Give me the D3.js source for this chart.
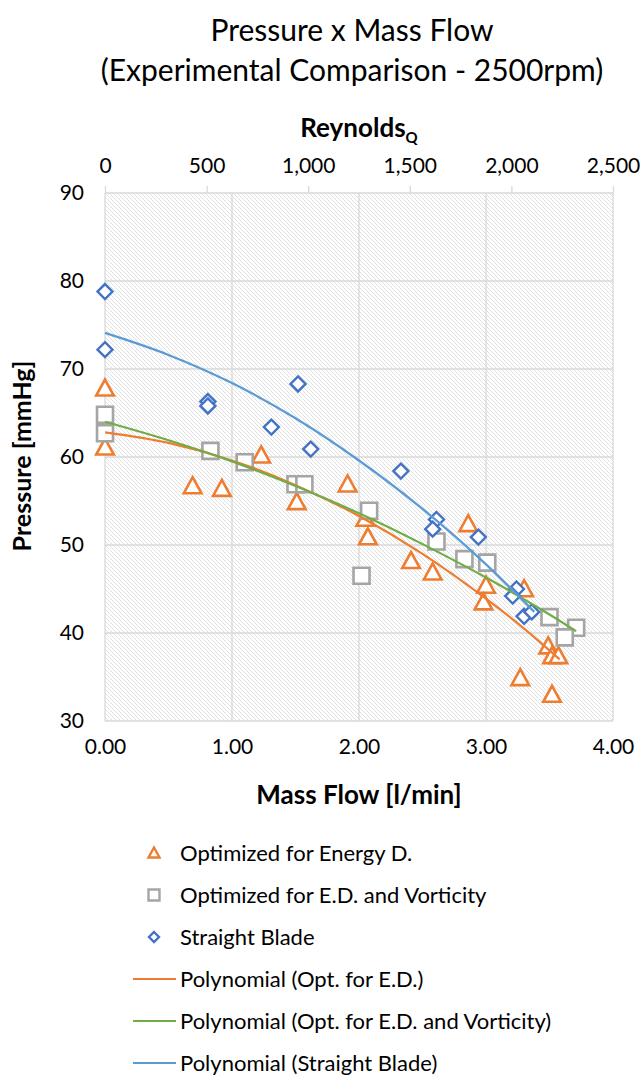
<!DOCTYPE html>
<html>
<head>
<meta charset="utf-8">
<script src="https://cdn.jsdelivr.net/npm/d3@7"></script>
<style>
  body { margin: 0; background: #fff; }
  svg text { font-family: Lato, "Open Sans", sans-serif; fill: #000; }
</style>
</head>
<body>
<div id="chart"></div>
<script>
// Scatter data (mass flow l/min, pressure mmHg)
let energyX = [0.00, 0.00, 0.69, 0.92, 1.23, 1.51, 1.91, 2.05, 2.07, 2.41, 2.58, 2.86, 3.00, 2.98, 3.30, 3.49, 3.52, 3.57, 3.27, 3.52];
let energyY = [67.8, 61.1, 56.7, 56.4, 60.2, 54.9, 56.9, 53.0, 50.9, 48.2, 46.9, 52.4, 45.4, 43.5, 45.0, 38.5, 37.4, 37.4, 34.9, 33.0];

let vortX = [0.00, 0.00, 0.83, 1.10, 1.50, 1.57, 2.08, 2.02, 2.61, 2.83, 3.01, 3.50, 3.71, 3.62];
let vortY = [64.8, 62.7, 60.7, 59.4, 56.9, 56.9, 53.9, 46.5, 50.4, 48.4, 48.0, 41.8, 40.6, 39.5];

let straightX = [0.00, 0.00, 0.81, 0.81, 1.31, 1.52, 1.62, 2.33, 2.61, 2.58, 2.94, 3.24, 3.21, 3.30, 3.36];
let straightY = [78.8, 72.2, 66.3, 65.8, 63.4, 68.3, 60.9, 58.4, 52.9, 51.8, 50.9, 45.0, 44.2, 41.9, 42.4];

// Trendlines
let fitEnergyX = [0, 0.5, 1.0, 1.5, 2.0, 2.5, 3.0, 3.3, 3.58];
let fitEnergyY = [62.8, 61.6, 59.6, 56.8, 53.3, 49.0, 43.9, 40.5, 37.0];
let fitVortX = [0, 0.5, 1.0, 1.5, 2.0, 2.5, 3.0, 3.5, 3.71];
let fitVortY = [64.0, 61.9, 59.5, 56.7, 53.6, 50.1, 46.3, 42.1, 40.2];
let fitStraightX = [0, 0.5, 1.0, 1.5, 2.0, 2.5, 3.0, 3.38];
let fitStraightY = [74.1, 71.6, 68.4, 64.4, 59.6, 54.1, 47.8, 42.4];

// Axis ticks
let flowTicks = [0, 1, 2, 3, 4];
let reynoldsTicks = [0, 500, 1000, 1500, 2000, 2500];
let pressureTicks = [30, 40, 50, 60, 70, 80, 90];

let legendLabels = ["Optimized for Energy D.", "Optimized for E.D. and Vorticity", "Straight Blade",
  "Polynomial (Opt. for E.D.)", "Polynomial (Opt. for E.D. and Vorticity)", "Polynomial (Straight Blade)"];

let orange = "#ED7D31", gray = "#A5A5A5", blue = "#4472C4";
let lineOrange = "#ED7D31", lineGreen = "#70AD47", lineBlue = "#5B9BD5";
let gridColor = "#d9d9d9";

let svgWidth = 644, svgHeight = 1077;
let plot = {left: 105, right: 613, top: 193, bottom: 721};

let svg = d3.select("#chart").append("svg")
  .attr("width", svgWidth)
  .attr("height", svgHeight);

// hatch fill for the plot area
let defs = svg.append("defs");
defs.append("pattern")
  .attr("id", "hatch")
  .attr("patternUnits", "userSpaceOnUse")
  .attr("width", 4).attr("height", 4)
  .append("path")
  .attr("d", "M-1,-1 l2,2 M0,0 l4,4 M3,3 l2,2")
  .attr("stroke", "#dcdcdc")
  .attr("stroke-width", 0.8);

let x = d3.scaleLinear().domain([0, 4]).range([plot.left, plot.right]);
let xTop = d3.scaleLinear().domain([0, 2500]).range([plot.left, plot.right]);
let y = d3.scaleLinear().domain([30, 90]).range([plot.bottom, plot.top]);

// title
svg.append("text").attr("x", 352).attr("y", 41).attr("text-anchor", "middle")
  .style("font-size", "30px").text("Pressure x Mass Flow");
svg.append("text").attr("x", 352).attr("y", 81).attr("text-anchor", "middle")
  .style("font-size", "30px").text("(Experimental Comparison - 2500rpm)");

// plot background + grid
svg.append("rect")
  .attr("x", plot.left).attr("y", plot.top)
  .attr("width", plot.right - plot.left).attr("height", plot.bottom - plot.top)
  .attr("fill", "url(#hatch)");

svg.append("g").selectAll("line").data(pressureTicks).enter().append("line")
  .attr("x1", plot.left).attr("x2", plot.right)
  .attr("y1", d => y(d)).attr("y2", d => y(d))
  .attr("stroke", gridColor).attr("stroke-width", 1.3);

svg.append("g").selectAll("line").data(flowTicks).enter().append("line")
  .attr("x1", d => x(d)).attr("x2", d => x(d))
  .attr("y1", plot.top).attr("y2", plot.bottom)
  .attr("stroke", gridColor).attr("stroke-width", 1.3);

// axes
let bottomAxis = svg.append("g")
  .attr("transform", `translate(0,${plot.bottom})`)
  .call(d3.axisBottom(x).tickValues(flowTicks).tickFormat(d3.format(".2f")).tickSize(0).tickPadding(18));

let topAxis = svg.append("g")
  .attr("transform", `translate(0,${plot.top})`)
  .call(d3.axisTop(xTop).tickValues(reynoldsTicks).tickFormat(d3.format(",")).tickSize(7).tickPadding(13));

let leftAxis = svg.append("g")
  .attr("transform", `translate(${plot.left},0)`)
  .call(d3.axisLeft(y).tickValues(pressureTicks).tickSize(0).tickPadding(21));

[bottomAxis, topAxis, leftAxis].forEach(g => {
  g.select(".domain").remove();
  g.selectAll("line").attr("stroke", gridColor).attr("stroke-width", 1.3);
  g.selectAll("text").style("font-size", "21px").attr("fill", "#000");
});

// axis titles
svg.append("text").attr("x", 359).attr("y", 804).attr("text-anchor", "middle")
  .style("font-size", "26px").style("font-weight", "bold").text("Mass Flow [l/min]");

let reyTitle = svg.append("text").attr("x", 359).attr("y", 137).attr("text-anchor", "middle")
  .style("font-size", "26px").style("font-weight", "bold");
reyTitle.append("tspan").text("Reynolds");
reyTitle.append("tspan").attr("dy", 6).style("font-size", "15px").text("Q");

svg.append("text").attr("transform", `translate(31,456) rotate(-90)`).attr("text-anchor", "middle")
  .style("font-size", "25px").style("font-weight", "bold").text("Pressure [mmHg]");

// marker shapes
let triPath = s => `M0,${-s * 0.55} L${s * 0.55},${s * 0.45} L${-s * 0.55},${s * 0.45} Z`;
let sqPath = s => `M${-s / 2},${-s / 2} h${s} v${s} h${-s} Z`;
let diaPath = s => `M0,${-s / 2} L${s / 2},0 L0,${s / 2} L${-s / 2},0 Z`;

let plotG = svg.append("g");

function drawPoints(xs, ys, shape, size, color, sw) {
  plotG.append("g").selectAll("path").data(xs).enter().append("path")
    .attr("transform", (d, i) => `translate(${x(d)},${y(ys[i])})`)
    .attr("d", shape(size))
    .attr("fill", "#fff")
    .attr("stroke", color)
    .attr("stroke-width", sw)
    .attr("stroke-linejoin", "miter");
}

drawPoints(energyX, energyY, triPath, 16, orange, 2.6);
drawPoints(vortX, vortY, sqPath, 16, gray, 2.6);
drawPoints(straightX, straightY, diaPath, 15, blue, 2.4);

// trendlines
let line = d3.line().x(d => x(d[0])).y(d => y(d[1])).curve(d3.curveMonotoneX);
function drawFit(xs, ys, color) {
  plotG.append("path")
    .datum(xs.map((d, i) => [d, ys[i]]))
    .attr("d", line)
    .attr("fill", "none")
    .attr("stroke", color)
    .attr("stroke-width", 2.2);
}
drawFit(fitEnergyX, fitEnergyY, lineOrange);
drawFit(fitVortX, fitVortY, lineGreen);
drawFit(fitStraightX, fitStraightY, lineBlue);

// legend
let legendTop = 853, legendStep = 42;
let legend = svg.append("g");
let legendRows = legend.selectAll("g").data(legendLabels).enter().append("g")
  .attr("transform", (d, i) => `translate(0,${legendTop + i * legendStep})`);

legendRows.append("text")
  .attr("x", 180).attr("y", 0).attr("dy", "0.35em")
  .style("font-size", "22px")
  .text(d => d);

let legendShapes = [[triPath, orange], [sqPath, gray], [diaPath, blue]];
legendRows.filter((d, i) => i < 3).append("path")
  .attr("transform", "translate(154,0)")
  .attr("d", (d, i) => legendShapes[i][0](i === 1 ? 11 : 10))
  .attr("fill", "#fff")
  .attr("stroke", (d, i) => legendShapes[i][1])
  .attr("stroke-width", 2.4);

let legendLines = [lineOrange, lineGreen, lineBlue];
legendRows.filter((d, i) => i >= 3).append("line")
  .attr("x1", 133).attr("x2", 176)
  .attr("stroke", (d, i) => legendLines[i])
  .attr("stroke-width", 2.2);
</script>
</body>
</html>
